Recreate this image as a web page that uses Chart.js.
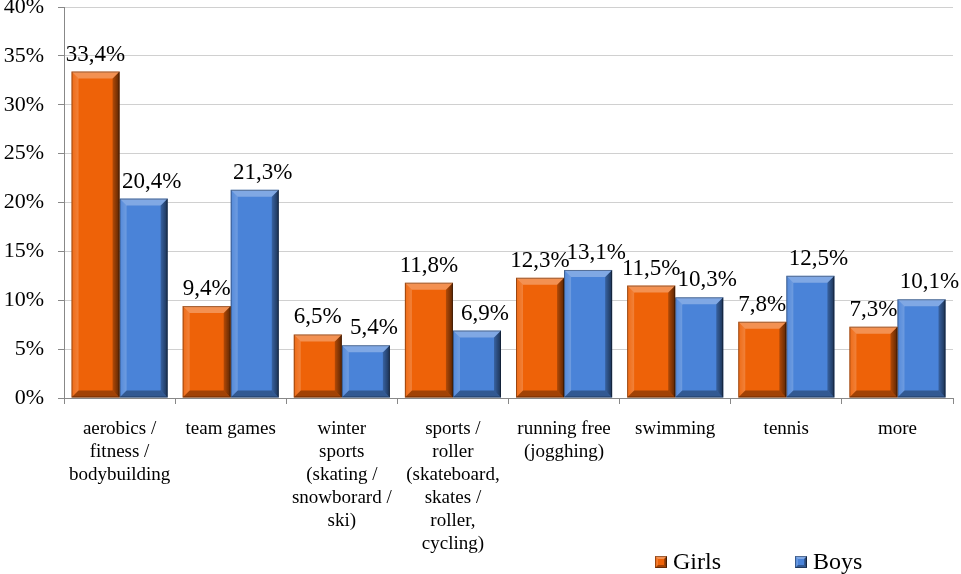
<!DOCTYPE html>
<html>
<head>
<meta charset="utf-8">
<script src="https://cdn.jsdelivr.net/npm/chart.js@4/dist/chart.umd.min.js"></script>
<style>
  html, body { margin: 0; padding: 0; background: #fff; }
  #wrap { width: 961px; height: 574px; position: relative; }
</style>
</head>
<body>
<div id="wrap"><canvas id="chart"></canvas></div>
<script>
// Sports preferred by girls and boys (percent)
const categories = [
    ['aerobics /', 'fitness /', 'bodybuilding'],
    ['team games'],
    ['winter', 'sports', '(skating /', 'snowborard /', 'ski)'],
    ['sports /', 'roller', '(skateboard,', 'skates /', 'roller,', 'cycling)'],
    ['running free', '(jogghing)'],
    ['swimming'],
    ['tennis'],
    ['more']
];
const girls = [33.4, 9.4, 6.5, 11.8, 12.3, 11.5, 7.8, 7.3];
const boys = [20.4, 21.3, 5.4, 6.9, 13.1, 10.3, 12.5, 10.1];
const yTicks = [0, 5, 10, 15, 20, 25, 30, 35, 40];

const SERIF = '"Liberation Serif", "Times New Roman", serif';

// draws the bevelled faces on a rectangle
function bevel(ctx, l, t, r, b, d) {
    ctx.save();
    let g = ctx.createLinearGradient(l, 0, l + d, 0);
    g.addColorStop(0, 'rgba(255,255,255,0.05)');
    g.addColorStop(1, 'rgba(255,255,255,0.2)');
    ctx.fillStyle = g;
    ctx.beginPath();
    ctx.moveTo(l, t); ctx.lineTo(l + d, t + d); ctx.lineTo(l + d, b - d); ctx.lineTo(l, b);
    ctx.closePath(); ctx.fill();
    g = ctx.createLinearGradient(r - d, 0, r, 0);
    g.addColorStop(0, 'rgba(0,0,0,0.25)');
    g.addColorStop(1, 'rgba(0,0,0,0.62)');
    ctx.fillStyle = g;
    ctx.beginPath();
    ctx.moveTo(r, t); ctx.lineTo(r - d, t + d); ctx.lineTo(r - d, b - d); ctx.lineTo(r, b);
    ctx.closePath(); ctx.fill();
    ctx.fillStyle = 'rgba(255,255,255,0.3)';
    ctx.beginPath();
    ctx.moveTo(l, t); ctx.lineTo(r, t); ctx.lineTo(r - d, t + d); ctx.lineTo(l + d, t + d);
    ctx.closePath(); ctx.fill();
    ctx.fillStyle = 'rgba(0,0,0,0.32)';
    ctx.beginPath();
    ctx.moveTo(l, b); ctx.lineTo(r, b); ctx.lineTo(r - d, b - d); ctx.lineTo(l + d, b - d);
    ctx.closePath(); ctx.fill();
    // thin dark outline
    ctx.strokeStyle = 'rgba(0,0,0,0.35)';
    ctx.lineWidth = 1;
    ctx.strokeRect(l + 0.5, t + 0.5, r - l - 1, b - t - 1);
    ctx.restore();
}

const bevelPlugin = {
    id: 'bevel',
    afterDatasetsDraw(chart) {
        chart.data.datasets.forEach((ds, di) => {
            chart.getDatasetMeta(di).data.forEach(bar => {
                const d = Math.min(7, (bar.base - bar.y) / 2);
                bevel(chart.ctx, bar.x - bar.width / 2, bar.y, bar.x + bar.width / 2, bar.base, d);
            });
        });
    }
};

// Value labels above bars, comma decimal
const valueLabels = {
    id: 'valueLabels',
    afterDatasetsDraw(chart) {
        const ctx = chart.ctx;
        ctx.save();
        ctx.font = '23px ' + SERIF;
        ctx.fillStyle = '#000';
        ctx.textAlign = 'center';
        ctx.textBaseline = 'alphabetic';
        chart.data.datasets.forEach((ds, di) => {
            const shift = di === 1 ? 8 : 0;
            chart.getDatasetMeta(di).data.forEach((bar, i) => {
                const txt = ds.data[i].toFixed(1).replace('.', ',') + '%';
                ctx.fillText(txt, bar.x + shift, bar.y - 11);
            });
        });
        ctx.restore();
    }
};

// Legend in the bottom right corner
const bottomLegend = {
    id: 'bottomLegend',
    afterDraw(chart) {
        const ctx = chart.ctx;
        const y = chart.height - 12;
        const items = [{ x: 655 }, { x: 795 }];
        ctx.save();
        ctx.font = '24px ' + SERIF;
        ctx.textBaseline = 'middle';
        chart.data.datasets.forEach((ds, i) => {
            const x = items[i].x;
            ctx.fillStyle = ds.backgroundColor;
            ctx.fillRect(x, y - 6, 12, 12);
            bevel(ctx, x, y - 6, x + 12, y + 6, 3);
            ctx.fillStyle = '#000';
            ctx.fillText(ds.label, x + 18, y + 1);
        });
        ctx.restore();
    }
};

new Chart(document.getElementById('chart'), {
    type: 'bar',
    data: {
        labels: categories,
        datasets: [
            { label: 'Girls', data: girls, backgroundColor: '#ee6208', borderWidth: 0 },
            { label: 'Boys', data: boys, backgroundColor: '#4a83d8', borderWidth: 0 }
        ]
    },
    options: {
        responsive: true,
        maintainAspectRatio: false,
        animation: false,
        layout: { padding: { top: 7, right: 8, bottom: 4, left: 0 } },
        datasets: { bar: { categoryPercentage: 0.865, barPercentage: 1.0 } },
        scales: {
            x: {
                grid: { offset: true, drawOnChartArea: false, color: '#888', tickLength: 6 },
                border: { color: '#888' },
                ticks: { color: '#000', font: { family: SERIF, size: 19, lineHeight: 23 / 19 }, padding: 14, maxRotation: 0, autoSkip: false }
            },
            y: {
                min: 0, max: 40,
                afterBuildTicks: axis => { axis.ticks = yTicks.map(v => ({ value: v })); },
                afterFit: axis => { axis.width = 64; axis.paddingTop = 0; axis.paddingBottom = 0; },
                grid: { color: '#d0d0d0', tickLength: 6, tickColor: '#888' },
                border: { color: '#888' },
                ticks: { color: '#000', font: { family: SERIF, size: 22 }, padding: 14, callback: v => v + '%' }
            }
        },
        plugins: {
            legend: { display: false },
            tooltip: { enabled: false }
        }
    },
    plugins: [bevelPlugin, valueLabels, bottomLegend]
});
</script>
</body>
</html>
